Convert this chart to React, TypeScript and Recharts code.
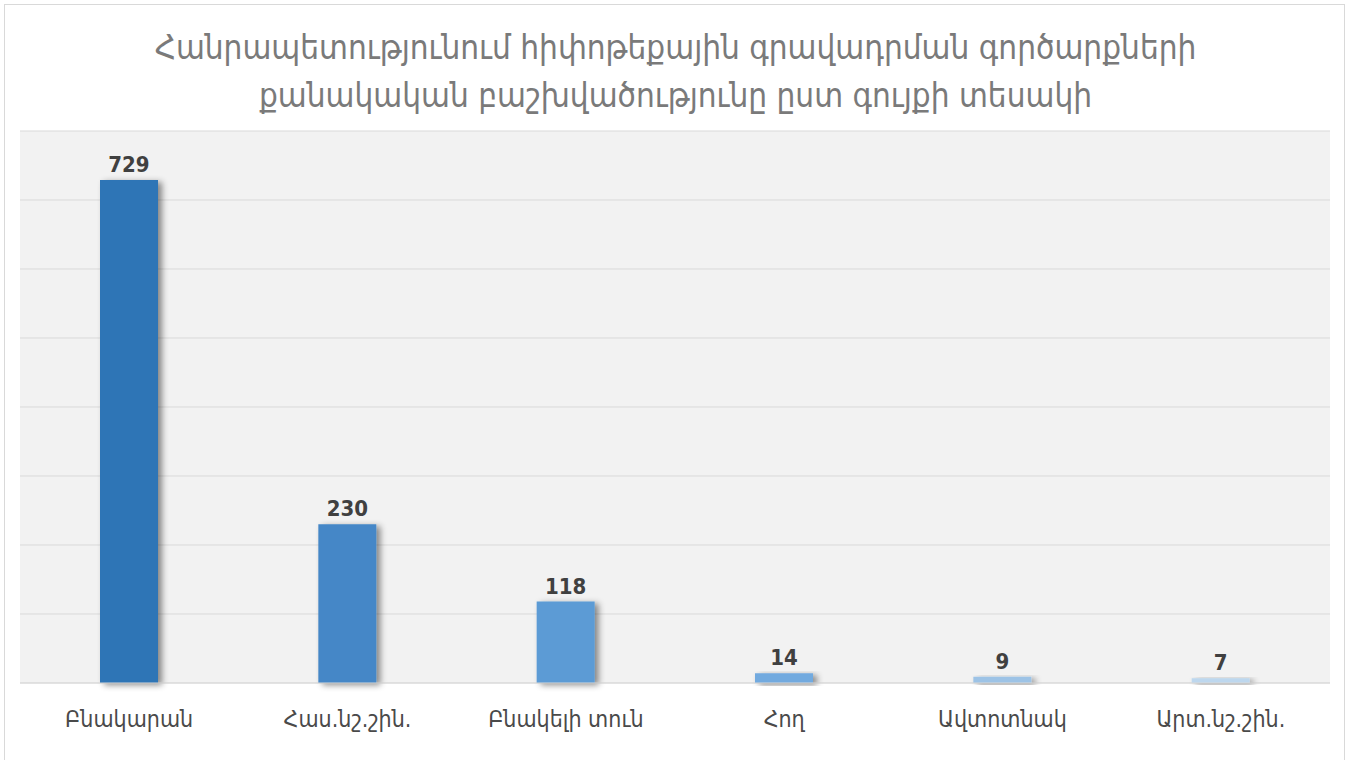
import React from 'react';
import { BarChart, Bar, XAxis, YAxis, CartesianGrid, Cell, LabelList } from 'recharts';

const categories = ['Բնակարան', 'Հաս.նշ.շին.', 'Բնակելի տուն', 'Հող', 'Ավտոտնակ', 'Արտ.նշ.շին.'];
const counts = [729, 230, 118, 14, 9, 7];
const barColors = ['#2E75B6', '#4487C7', '#5B9BD5', '#72AADF', '#9DC3E6', '#BDD7EE'];
const yTicks = [0, 100, 200, 300, 400, 500, 600, 700, 800];
const titleLines = [
  'Հանրապետությունում հիփոթեքային գրավադրման գործարքների',
  'քանակական բաշխվածությունը ըստ գույքի տեսակի',
];

const data = categories.map((name, i) => ({ name, value: counts[i] }));

const font = '"DejaVu Sans", "Noto Sans", sans-serif';
const condensed = '"DejaVu Sans Condensed", "DejaVu Sans", sans-serif';

export default function App() {
  return (
    <div style={{ position: 'absolute', left: 0, top: 0, width: 1351, height: 760, background: '#fff', overflow: 'hidden', fontFamily: font }}>
      <div style={{ position: 'absolute', left: 4, top: 4, width: 1341, height: 800, border: '1px solid #D9D9D9', boxSizing: 'border-box' }} />
      <div style={{ position: 'absolute', left: 0, top: 24, width: 1351, textAlign: 'center', color: '#7A7A7A', fontSize: 33, lineHeight: '48px', fontFamily: condensed }}>
        {titleLines.map((t) => (
          <div key={t}>{t}</div>
        ))}
      </div>
      <div style={{ position: 'absolute', left: 0, top: 0 }}>
        <BarChart width={1351} height={760} data={data} margin={{ top: 131, right: 21, bottom: 47, left: 20 }}>
          <defs>
            <filter id="barShadow" x="-20%" y="-20%" width="150%" height="150%">
              <feDropShadow dx="4" dy="2" stdDeviation="3" floodColor="#000" floodOpacity="0.45" />
            </filter>
          </defs>
          <CartesianGrid vertical={false} stroke="#D9D9D9" fill="#F2F2F2" />
          <XAxis
            dataKey="name"
            axisLine={{ stroke: '#D9D9D9' }}
            tickLine={false}
            tickMargin={22}
            tick={{ fill: '#4A4A4A', fontSize: 23, fontFamily: condensed }}
            interval={0}
          />
          <YAxis hide domain={[0, 800]} ticks={yTicks} />
          <Bar dataKey="value" barSize={58} isAnimationActive={false} filter="url(#barShadow)">
            {data.map((d, i) => (
              <Cell key={d.name} fill={barColors[i]} />
            ))}
            <LabelList dataKey="value" position="top" offset={8} fill="#404040" fontSize={22} fontWeight="bold" fontFamily={condensed} />
          </Bar>
        </BarChart>
      </div>
    </div>
  );
}
